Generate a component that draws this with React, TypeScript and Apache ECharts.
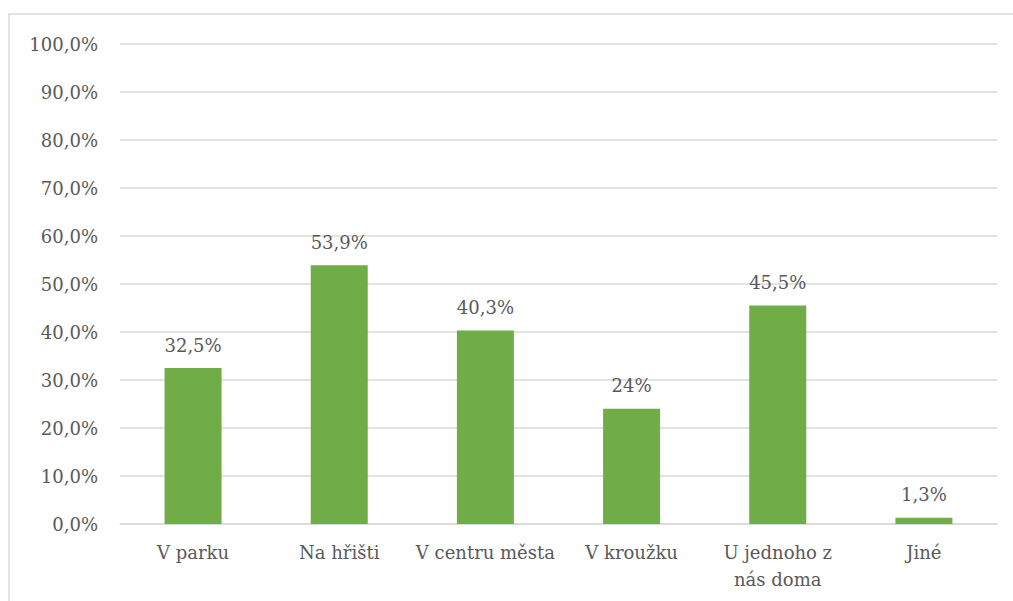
import React, { useEffect, useRef } from "react";
import * as echarts from "echarts";

const categories = ["V parku", "Na hřišti", "V centru města", "V kroužku", "U jednoho z\nnás doma", "Jiné"];
const values = [32.5, 53.9, 40.3, 24, 45.5, 1.3];
const valueLabels = ["32,5%", "53,9%", "40,3%", "24%", "45,5%", "1,3%"];

const FONT = "DejaVu Serif";
const TEXT = "#595959";

export default function App() {
  const ref = useRef<HTMLDivElement>(null);
  useEffect(() => {
    if (!ref.current) return;
    const chart = echarts.init(ref.current, undefined, { renderer: "svg" });
    chart.setOption({
      animation: false,
      backgroundColor: "#ffffff",
      textStyle: { fontFamily: FONT },
      graphic: [
        {
          type: "rect",
          shape: { x: 9, y: 14, width: 1010, height: 600 },
          style: { fill: "none", stroke: "#d9d9d9", lineWidth: 1.5 },
          silent: true,
        },
      ],
      grid: { left: 120, right: 16, top: 44, bottom: 77, containLabel: false },
      xAxis: {
        type: "category",
        data: categories,
        axisLine: { show: true, lineStyle: { color: "#d9d9d9", width: 1.5 } },
        axisTick: { show: false },
        axisLabel: {
          color: TEXT,
          fontFamily: FONT,
          fontSize: 18,
          margin: 15,
          lineHeight: 27,
          interval: 0,
        },
      },
      yAxis: {
        type: "value",
        min: 0,
        max: 100,
        interval: 10,
        axisLine: { show: false },
        axisTick: { show: false },
        splitLine: { lineStyle: { color: "#d9d9d9", width: 1.5 } },
        axisLabel: {
          color: TEXT,
          fontFamily: FONT,
          fontSize: 18,
          margin: 22,
          formatter: (v: number) => v.toFixed(1).replace(".", ",") + "%",
        },
      },
      series: [
        {
          type: "bar",
          data: values,
          barWidth: "39%",
          itemStyle: { color: "#70AD47" },
          label: {
            show: true,
            position: "top",
            distance: 14,
            color: TEXT,
            fontFamily: FONT,
            fontSize: 18,
            formatter: (p: any) => valueLabels[p.dataIndex],
          },
        },
      ],
    });
    return () => chart.dispose();
  }, []);
  return (
    <div
      ref={ref}
      style={{ position: "fixed", left: 0, top: 0, width: 1013, height: 601 }}
    />
  );
}
